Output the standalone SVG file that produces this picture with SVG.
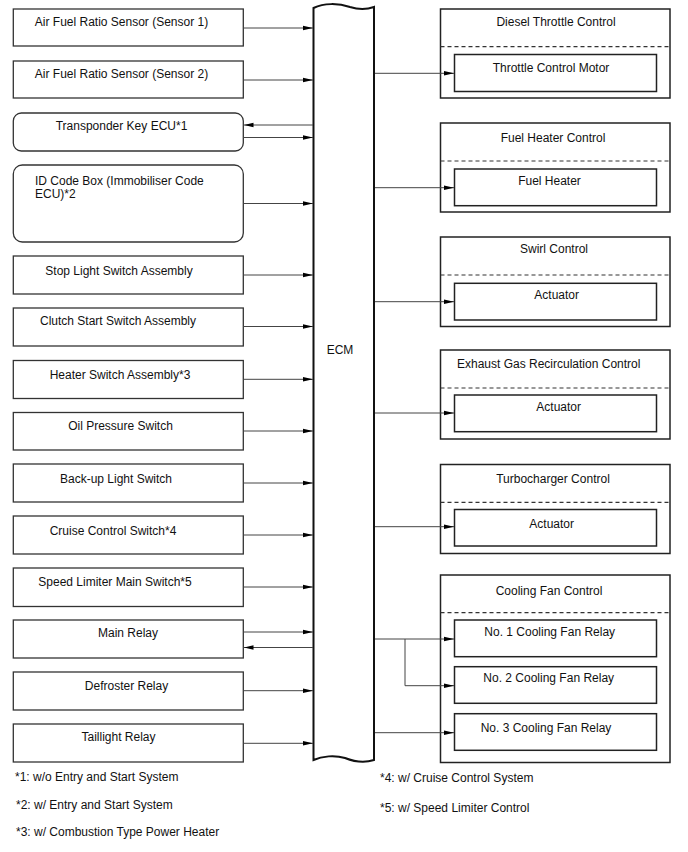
<svg xmlns="http://www.w3.org/2000/svg" width="688" height="852" viewBox="0 0 688 852">
<style>
text{font-family:"Liberation Sans",Arial,sans-serif;font-size:12px;fill:#111}
.c{text-anchor:middle}
.box{fill:#fff;stroke:#333;stroke-width:1.3}
.outer{fill:#fff;stroke:#222;stroke-width:1.5}
.inner{fill:#fff;stroke:#222;stroke-width:1.5}
.dash{stroke:#333;stroke-width:1.2;stroke-dasharray:4,3;fill:none}
.ln{stroke:#444;stroke-width:1;fill:none}
.ar{stroke:#444;stroke-width:1;fill:none;marker-end:url(#ah)}
.ecm{fill:#fff;stroke:#111;stroke-width:2}
</style>
<defs>
<marker id="ah" markerWidth="10" markerHeight="6" refX="10" refY="3" orient="auto" markerUnits="userSpaceOnUse">
<path d="M0,0.8 L10,3 L0,5.2 Z" fill="#000"/>
</marker>
</defs>
<rect width="688" height="852" fill="#fff"/>

<g id="ecm">
<path class="ecm" d="M313.5,8 C324,3 338,3 350,7 C360,10 368,9 374,7 L374,760 C365,763 355,762 345,758 C335,755 322,756 313.5,760 Z"/>
<text x="340" y="354" class="c">ECM</text>
</g>

<g id="n-afr1"><rect class="box" x="13.3" y="9" width="230" height="37"/><text x="121.5" y="26" class="c">Air Fuel Ratio Sensor (Sensor 1)</text></g>
<g id="n-afr2"><rect class="box" x="13.3" y="61" width="230" height="37"/><text x="121.5" y="78" class="c">Air Fuel Ratio Sensor (Sensor 2)</text></g>
<g id="n-transponder"><rect class="box" x="13.3" y="113" width="230" height="38" rx="8"/><text x="121.5" y="130" class="c">Transponder Key ECU*1</text></g>
<g id="n-idcode"><rect class="box" x="13.3" y="165" width="230" height="77" rx="9"/><text x="35" y="185">ID Code Box (Immobiliser Code</text><text x="35" y="198">ECU)*2</text></g>
<g id="n-stop"><rect class="box" x="13.3" y="256" width="230" height="38"/><text x="119" y="274.5" class="c">Stop Light Switch Assembly</text></g>
<g id="n-clutch"><rect class="box" x="13.3" y="308" width="230" height="38"/><text x="118" y="324.5" class="c">Clutch Start Switch Assembly</text></g>
<g id="n-heater"><rect class="box" x="13.3" y="360.5" width="230" height="38"/><text x="120" y="379" class="c">Heater Switch Assembly*3</text></g>
<g id="n-oil"><rect class="box" x="13.3" y="412.5" width="230" height="37.5"/><text x="120.5" y="429.5" class="c">Oil Pressure Switch</text></g>
<g id="n-backup"><rect class="box" x="13.3" y="464" width="230" height="38"/><text x="116" y="483" class="c">Back-up Light Switch</text></g>
<g id="n-cruise"><rect class="box" x="13.3" y="516" width="230" height="38"/><text x="113" y="534.5" class="c">Cruise Control Switch*4</text></g>
<g id="n-speed"><rect class="box" x="13.3" y="568" width="230" height="38.5"/><text x="115" y="586" class="c">Speed Limiter Main Switch*5</text></g>
<g id="n-mainrelay"><rect class="box" x="13.3" y="620" width="230" height="38"/><text x="128" y="637" class="c">Main Relay</text></g>
<g id="n-defroster"><rect class="box" x="13.3" y="672" width="230" height="38"/><text x="126.5" y="690" class="c">Defroster Relay</text></g>
<g id="n-taillight"><rect class="box" x="13.3" y="724" width="230" height="38"/><text x="118.5" y="741" class="c">Taillight Relay</text></g>

<g id="n-diesel">
<rect class="outer" x="440.5" y="9" width="229.5" height="89"/>
<line class="dash" x1="440.5" y1="46.7" x2="670" y2="46.7"/>
<text x="556" y="26" class="c">Diesel Throttle Control</text>
<rect class="inner" x="454.5" y="54.5" width="202" height="37"/>
<text x="551" y="72" class="c">Throttle Control Motor</text>
</g>
<g id="n-fuelheater">
<rect class="outer" x="440.5" y="123" width="229.5" height="89"/>
<line class="dash" x1="440.5" y1="161" x2="670" y2="161"/>
<text x="553" y="142" class="c">Fuel Heater Control</text>
<rect class="inner" x="454.5" y="169" width="202" height="36.7"/>
<text x="549.5" y="185" class="c">Fuel Heater</text>
</g>
<g id="n-swirl">
<rect class="outer" x="440.5" y="237" width="229.5" height="89.5"/>
<line class="dash" x1="440.5" y1="275" x2="670" y2="275"/>
<text x="554" y="253" class="c">Swirl Control</text>
<rect class="inner" x="454.5" y="283.3" width="202" height="36.7"/>
<text x="556.7" y="299" class="c">Actuator</text>
</g>
<g id="n-egr">
<rect class="outer" x="440.5" y="350" width="229.5" height="89"/>
<line class="dash" x1="440.5" y1="388" x2="670" y2="388"/>
<text x="548.7" y="367.5" class="c">Exhaust Gas Recirculation Control</text>
<rect class="inner" x="454.5" y="395" width="202" height="36.7"/>
<text x="558.7" y="411" class="c">Actuator</text>
</g>
<g id="n-turbo">
<rect class="outer" x="440.5" y="464.5" width="229.5" height="89"/>
<line class="dash" x1="440.5" y1="502.3" x2="670" y2="502.3"/>
<text x="553" y="483" class="c">Turbocharger Control</text>
<rect class="inner" x="454.5" y="509.5" width="202" height="36.5"/>
<text x="551.7" y="527.5" class="c">Actuator</text>
</g>
<g id="n-coolingfan">
<rect class="outer" x="440.5" y="575" width="229.5" height="187.5"/>
<line class="dash" x1="440.5" y1="612.7" x2="670" y2="612.7"/>
<text x="549" y="595" class="c">Cooling Fan Control</text>
<rect class="inner" x="454.5" y="620" width="202" height="36.7"/>
<text x="549.7" y="636" class="c">No. 1 Cooling Fan Relay</text>
<rect class="inner" x="454.5" y="666.7" width="202" height="36.6"/>
<text x="548.7" y="682" class="c">No. 2 Cooling Fan Relay</text>
<rect class="inner" x="454.5" y="713.7" width="202" height="36.6"/>
<text x="546" y="732" class="c">No. 3 Cooling Fan Relay</text>
</g>

<g id="connectors">
<line class="ar" x1="243.3" y1="28" x2="313" y2="28"/>
<line class="ar" x1="243.3" y1="80" x2="313" y2="80"/>
<line class="ar" x1="313" y1="125" x2="243.5" y2="125"/>
<line class="ar" x1="243.3" y1="137.5" x2="313" y2="137.5"/>
<line class="ar" x1="243.3" y1="203.5" x2="313" y2="203.5"/>
<line class="ar" x1="243.3" y1="275" x2="313" y2="275"/>
<line class="ar" x1="243.3" y1="326.5" x2="313" y2="326.5"/>
<line class="ar" x1="243.3" y1="379.3" x2="313" y2="379.3"/>
<line class="ar" x1="243.3" y1="431" x2="313" y2="431"/>
<line class="ar" x1="243.3" y1="483" x2="313" y2="483"/>
<line class="ar" x1="243.3" y1="535" x2="313" y2="535"/>
<line class="ar" x1="243.3" y1="587" x2="313" y2="587"/>
<line class="ar" x1="243.3" y1="632" x2="313" y2="632"/>
<line class="ar" x1="313" y1="647.5" x2="243.5" y2="647.5"/>
<line class="ar" x1="243.3" y1="690.7" x2="313" y2="690.7"/>
<line class="ar" x1="243.3" y1="743.3" x2="313" y2="743.3"/>
<line class="ar" x1="375" y1="73.3" x2="454" y2="73.3"/>
<line class="ar" x1="375" y1="187.7" x2="454" y2="187.7"/>
<line class="ar" x1="375" y1="301.7" x2="454" y2="301.7"/>
<line class="ar" x1="375" y1="413" x2="454" y2="413"/>
<line class="ar" x1="375" y1="526.7" x2="454" y2="526.7"/>
<line class="ar" x1="375" y1="639" x2="454" y2="639"/>
<polyline class="ar" points="405,639 405,685.7 454,685.7"/>
<line class="ar" x1="375" y1="732.7" x2="454" y2="732.7"/>
</g>

<g id="footnotes">
<text x="15" y="781">*1: w/o Entry and Start System</text>
<text x="16" y="809">*2: w/ Entry and Start System</text>
<text x="16" y="836">*3: w/ Combustion Type Power Heater</text>
<text x="380" y="782">*4: w/ Cruise Control System</text>
<text x="380" y="812">*5: w/ Speed Limiter Control</text>
</g>
</svg>
